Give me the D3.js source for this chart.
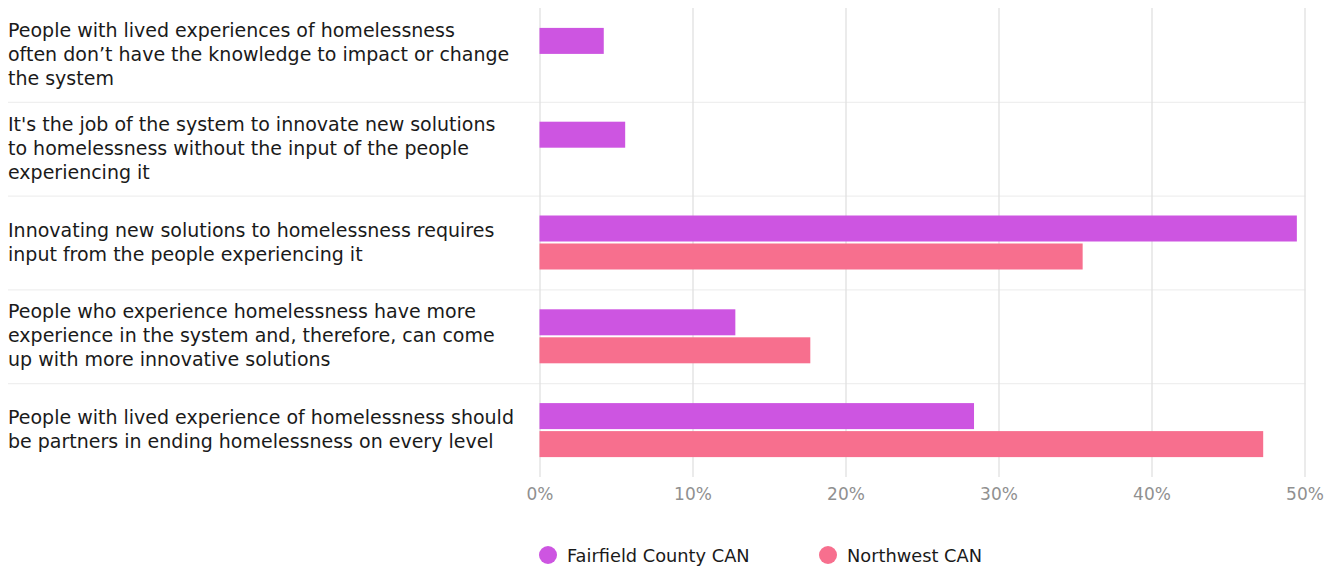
<!DOCTYPE html>
<html>
<head>
<meta charset="utf-8">
<script src="https://cdn.jsdelivr.net/npm/d3@7"></script>
<style>
  html, body { margin: 0; padding: 0; background: #fff; }
  svg { display: block; }
</style>
</head>
<body>
<svg id="chart" width="1338" height="567"></svg>
<script>
// Survey statements (each entry holds the wrapped lines of its label)
const categories = [
  ["People with lived experiences of homelessness", "often don\u2019t have the knowledge to impact or change", "the system"],
  ["It's the job of the system to innovate new solutions", "to homelessness without the input of the people", "experiencing it"],
  ["Innovating new solutions to homelessness requires", "input from the people experiencing it"],
  ["People who experience homelessness have more", "experience in the system and, therefore, can come", "up with more innovative solutions"],
  ["People with lived experience of homelessness should", "be partners in ending homelessness on every level"]
];
const seriesNames = ["Fairfield County CAN", "Northwest CAN"];
// Share of respondents (%) agreeing with each statement
const fairfield = [4.2, 5.6, 49.5, 12.8, 28.4];
const northwest = [null, null, 35.5, 17.7, 47.3];
const tickValues = [0, 10, 20, 30, 40, 50];
const colors = ["#cd55e1", "#f76f8e"];

const svg = d3.select("#chart");
const plotLeft = 539.5, plotRight = 1304.5, plotTop = 8, plotBottom = 477;

const x = d3.scaleLinear().domain([0, 50]).range([plotLeft, plotRight]);
const y = d3.scaleBand().domain(d3.range(categories.length)).range([plotTop, plotBottom]);
const inner = d3.scaleBand().domain([0, 1]).range([0, 54]).paddingInner(2 / 28);

// Row separators
svg.append("g").selectAll("line")
  .data(d3.range(1, categories.length))
  .join("line")
  .attr("x1", 8).attr("x2", plotRight + 1)
  .attr("y1", d => y(d) + 0.5).attr("y2", d => y(d) + 0.5)
  .attr("stroke", "#efefef").attr("stroke-width", 1.2);

// Vertical gridlines + tick labels
const axis = d3.axisBottom(x)
  .tickValues(tickValues)
  .tickFormat(d => d + "%")
  .tickSize(-(plotBottom - plotTop))
  .tickPadding(11);
const gAxis = svg.append("g")
  .attr("transform", `translate(0,${plotBottom})`)
  .call(axis);
gAxis.select(".domain").remove();
gAxis.selectAll(".tick line").attr("stroke", "#e0e0e0").attr("stroke-width", 1.3);
gAxis.selectAll(".tick text")
  .attr("fill", "#909090")
  .attr("font-family", "'DejaVu Sans', sans-serif")
  .attr("font-size", 17);

// Bars
const data = categories.map((c, i) => ({ i, vals: [fairfield[i], northwest[i]] }));
const groups = svg.append("g").selectAll("g")
  .data(data)
  .join("g")
  .attr("transform", d => `translate(0,${y(d.i) + (y.bandwidth() - 54) / 2})`);
groups.selectAll("rect")
  .data(d => d.vals.map((v, s) => ({ v, s })).filter(e => e.v != null))
  .join("rect")
  .attr("x", x(0))
  .attr("y", d => inner(d.s))
  .attr("width", d => x(d.v) - x(0))
  .attr("height", inner.bandwidth())
  .attr("fill", d => colors[d.s]);

// Category labels
const lh = 24;
const labels = svg.append("g").selectAll("text")
  .data(categories)
  .join("text")
  .attr("x", 8)
  .attr("font-family", "'DejaVu Sans', sans-serif")
  .attr("font-size", 19)
  .attr("fill", "#1a1a1a")
  .attr("dominant-baseline", "central");
labels.each(function (lines, i) {
  const cy = y(i) + y.bandwidth() / 2 - (lines.length - 1) * lh / 2 - 1;
  d3.select(this).selectAll("tspan")
    .data(lines)
    .join("tspan")
    .attr("x", 8)
    .attr("y", (d, k) => cy + k * lh)
    .text(d => d);
});

// Legend
const legendX = [548, 828];
const legend = svg.append("g").selectAll("g")
  .data(seriesNames)
  .join("g")
  .attr("transform", (d, i) => `translate(${legendX[i]},555)`);
legend.append("circle").attr("r", 9).attr("fill", (d, i) => colors[i]);
legend.append("text")
  .attr("x", 19)
  .attr("dominant-baseline", "central")
  .attr("font-family", "'DejaVu Sans', sans-serif")
  .attr("font-size", 17.8)
  .attr("fill", "#1a1a1a")
  .text(d => d);
</script>
</body>
</html>
